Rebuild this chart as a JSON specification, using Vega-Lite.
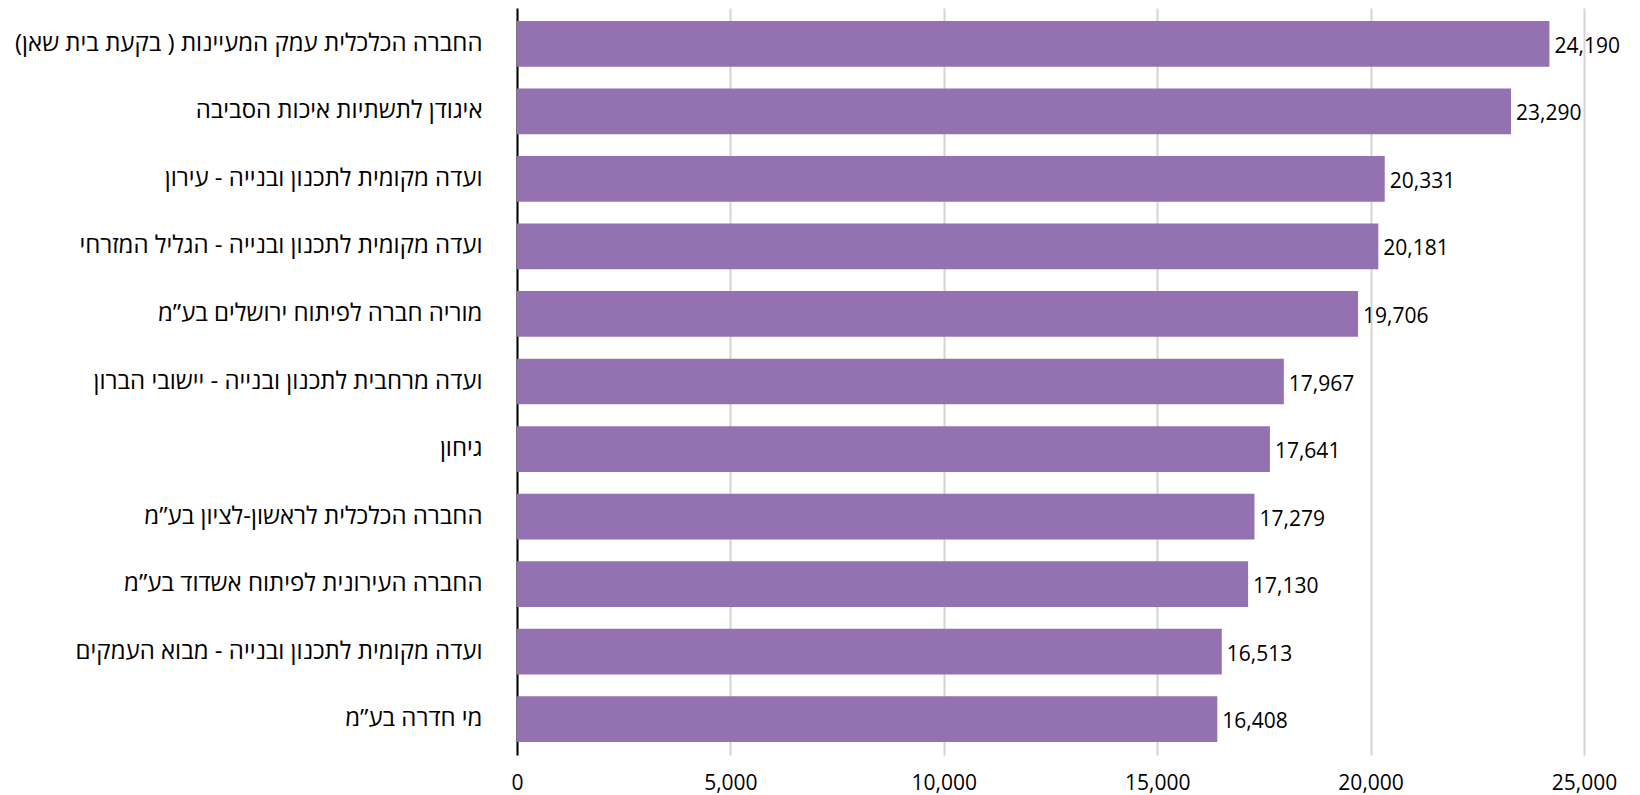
{
  "$schema": "https://vega.github.io/schema/vega-lite/v6.json",
  "autosize": "none",
  "width": 1067,
  "height": 747,
  "padding": {"left": 517, "top": 8, "right": 56, "bottom": 40},
  "background": "white",
  "config": {"view": {"stroke": null}, "font": "Open Sans"},
  "data": {"values": [
    {"name": "החברה הכלכלית עמק המעיינות ( בקעת בית שאן)", "value": 24190},
    {"name": "איגודן לתשתיות איכות הסביבה", "value": 23290},
    {"name": "ועדה מקומית לתכנון ובנייה - עירון", "value": 20331},
    {"name": "ועדה מקומית לתכנון ובנייה - הגליל המזרחי", "value": 20181},
    {"name": "מוריה חברה לפיתוח ירושלים בע”מ", "value": 19706},
    {"name": "ועדה מרחבית לתכנון ובנייה - יישובי הברון", "value": 17967},
    {"name": "גיחון", "value": 17641},
    {"name": "החברה הכלכלית לראשון-לציון בע”מ", "value": 17279},
    {"name": "החברה העירונית לפיתוח אשדוד בע”מ", "value": 17130},
    {"name": "ועדה מקומית לתכנון ובנייה - מבוא העמקים", "value": 16513},
    {"name": "מי חדרה בע”מ", "value": 16408}
  ]},
  "encoding": {
    "y": {
      "field": "name", "type": "nominal", "sort": {"field": "value", "order": "descending"},
      "scale": {"paddingInner": 0.323, "paddingOuter": 0.193},
      "axis": {"title": null, "ticks": false, "domainColor": "#000000", "domainWidth": 2,
               "labelFontSize": 24, "labelColor": "#000000", "labelPadding": 35, "labelLimit": 600}
    },
    "x": {
      "field": "value", "type": "quantitative",
      "scale": {"domain": [0, 25000], "nice": false},
      "axis": {"title": null, "values": [0, 5000, 10000, 15000, 20000, 25000], "format": ",.0f",
               "labelOverlap": false, "labelFlush": false,
               "domain": false, "ticks": false, "grid": true, "gridColor": "#d4d4d4", "gridWidth": 2,
               "labelFontSize": 21, "labelColor": "#000000", "labelPadding": 17}
    }
  },
  "layer": [
    {"mark": {"type": "bar", "color": "#9471b0"}},
    {"mark": {"type": "text", "align": "left", "baseline": "middle", "dx": 5, "dy": 3, "fontSize": 21, "color": "#000000"},
     "encoding": {"text": {"field": "value", "type": "quantitative", "format": ","}}}
  ]
}
